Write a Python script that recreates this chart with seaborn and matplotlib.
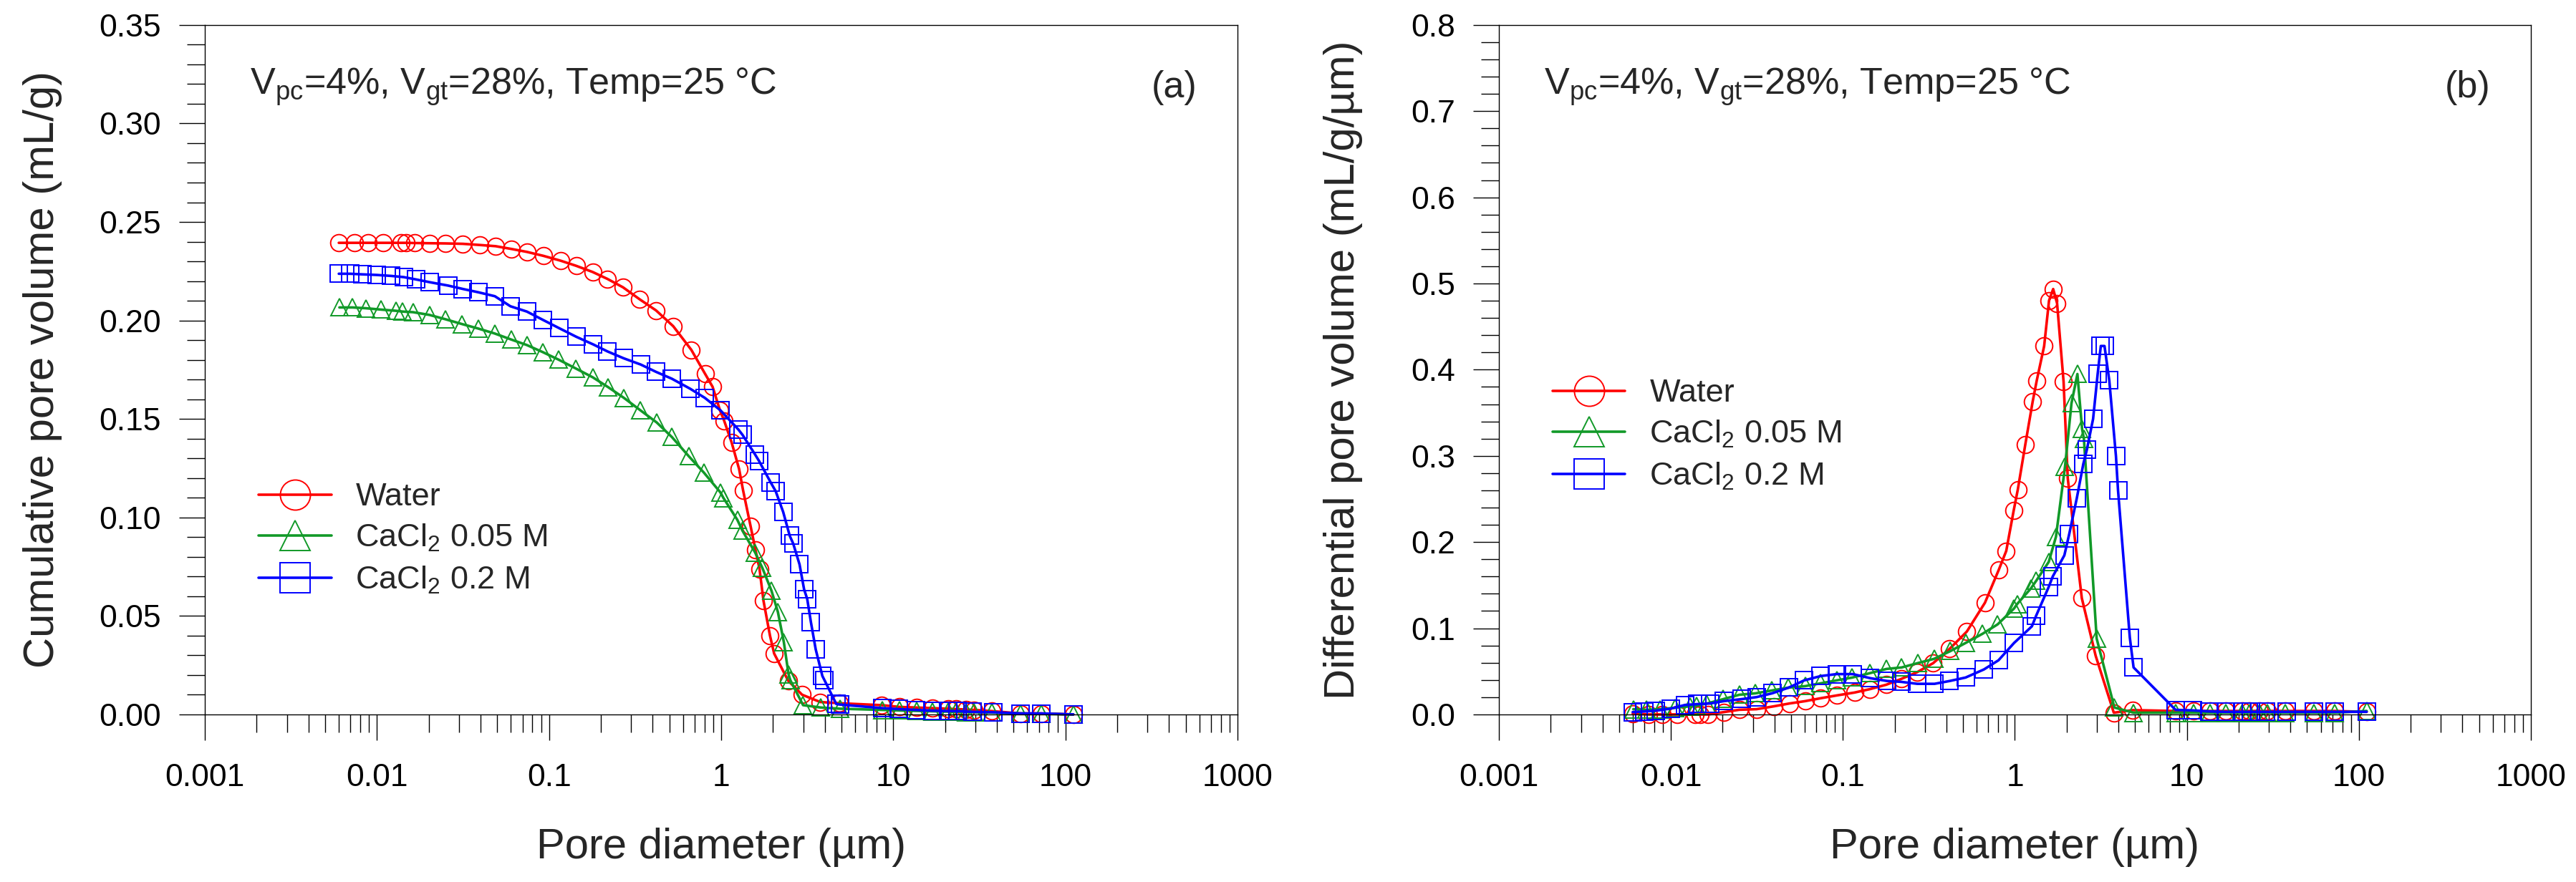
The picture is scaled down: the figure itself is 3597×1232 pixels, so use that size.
import pandas as pd
import seaborn as sns
import matplotlib
matplotlib.use('Agg')
import matplotlib.pyplot as plt
from matplotlib.ticker import MultipleLocator, LogLocator, FuncFormatter, NullFormatter

# pore diameters (um) and volumes
water_d = [0.006, 0.0074, 0.0089, 0.0109, 0.0138, 0.0148, 0.0165, 0.0203, 0.025, 0.0315,
           0.0397, 0.0489, 0.0603, 0.0743, 0.0926, 0.117, 0.144, 0.179, 0.218, 0.269,
           0.335, 0.418, 0.526, 0.670, 0.807, 0.891, 0.984, 1.04, 1.15, 1.27,
           1.34, 1.48, 1.58, 1.67, 1.76, 1.92, 2.03, 2.45, 2.95, 3.76,
           4.84, 8.58, 10.9, 13.6, 16.8, 20.9, 23.1, 26.4, 29.3, 37.3,
           54.7, 72.2, 111]
water_cum = [0.2394, 0.2394, 0.2394, 0.2394, 0.2394, 0.2394, 0.2393, 0.2392, 0.2391, 0.2389,
             0.2383, 0.2377, 0.2363, 0.2348, 0.2328, 0.2303, 0.2277, 0.2246, 0.2211, 0.2168,
             0.2108, 0.2051, 0.1971, 0.1851, 0.1728, 0.1663, 0.1543, 0.1491, 0.1380, 0.1246,
             0.1137, 0.0957, 0.0837, 0.0737, 0.0577, 0.0400, 0.0309, 0.0171, 0.0100, 0.0063,
             0.0057, 0.0047, 0.0038, 0.0035, 0.0032, 0.0029, 0.0027, 0.0025, 0.0023, 0.0017,
             0.0005, 0.0005, 0.0]
water_diff = [0.001, 0.0, 0.0, 0.0, 0.0, 0.0, 0.0, 0.0027, 0.0054, 0.0061,
              0.0094, 0.0127, 0.0154, 0.0188, 0.0221, 0.0254, 0.0294, 0.0345, 0.0411, 0.0488,
              0.0595, 0.0762, 0.0962, 0.1296, 0.168, 0.1897, 0.2364, 0.2608, 0.3132, 0.3633,
              0.3873, 0.4274, 0.4802, 0.4936, 0.477, 0.386, 0.274, 0.135, 0.068, 0.002,
              0.005, 0.004, 0.004, 0.004, 0.004, 0.004, 0.004, 0.004, 0.004, 0.004,
              0.004, 0.004, 0.003]

ca05_d = [0.00605, 0.00722, 0.00862, 0.0106, 0.0129, 0.0141, 0.0162, 0.0202, 0.025, 0.0311,
          0.0387, 0.0482, 0.0603, 0.0743, 0.092, 0.1135, 0.143, 0.1796, 0.2197, 0.272,
          0.339, 0.422, 0.517, 0.649, 0.794, 0.989, 1.03, 1.24, 1.33, 1.574,
          1.733, 1.957, 2.134, 2.31, 2.46, 2.52, 2.99, 3.79, 4.9, 8.6,
          10.9, 13.6, 16.8, 20.9, 23.1, 26.4, 29.3, 37.3, 54.7, 72.2,
          111]
ca05_cum = [0.2066, 0.2066, 0.2062, 0.2055, 0.2049, 0.2045, 0.2042, 0.2028, 0.2006, 0.1982,
            0.1959, 0.1934, 0.1903, 0.1875, 0.1839, 0.1801, 0.1756, 0.1711, 0.1662, 0.1607,
            0.1544, 0.1482, 0.1408, 0.1310, 0.1227, 0.1127, 0.1099, 0.0988, 0.0932, 0.0822,
            0.0744, 0.0629, 0.0520, 0.0368, 0.0205, 0.0174, 0.0047, 0.0035, 0.0029, 0.0023,
            0.0020, 0.0018, 0.0016, 0.0014, 0.0013, 0.0012, 0.0011, 0.0009, 0.0005, 0.0003,
            0.0]
ca05_diff = [0.0061, 0.0054, 0.0061, 0.0077, 0.0094, 0.0100, 0.0127, 0.0178, 0.0228, 0.0245,
             0.0278, 0.0311, 0.0328, 0.0361, 0.0395, 0.0428, 0.0478, 0.0528, 0.0545, 0.0595,
             0.0645, 0.0735, 0.0829, 0.0936, 0.1045, 0.1229, 0.128, 0.1463, 0.155, 0.177,
             0.206, 0.2875, 0.361, 0.395, 0.331, 0.320, 0.088, 0.008, 0.002, 0.002,
             0.002, 0.002, 0.002, 0.002, 0.002, 0.002, 0.002, 0.002, 0.002, 0.002,
             0.004]

ca2_d = [0.006, 0.0070, 0.0082, 0.00995, 0.0121, 0.0143, 0.0169, 0.0203, 0.0259, 0.0315,
         0.0388, 0.0484, 0.0596, 0.0743, 0.092, 0.1143, 0.1439, 0.1807, 0.218, 0.271,
         0.341, 0.418, 0.517, 0.661, 0.803, 0.989, 1.256, 1.33, 1.574, 1.66,
         1.94, 2.07, 2.29, 2.50, 2.62, 2.85, 3.03, 3.16, 3.32, 3.54,
         3.87, 3.98, 4.66, 4.9, 8.6, 10.8, 13.5, 16.8, 20.9, 23.5,
         28.9, 37.9, 54.7, 72.2, 111]
ca2_cum = [0.2237, 0.2237, 0.2234, 0.2231, 0.2226, 0.2220, 0.2208, 0.2194, 0.2177, 0.2160,
           0.2143, 0.2123, 0.2072, 0.2045, 0.2003, 0.1961, 0.1917, 0.1878, 0.1843, 0.1808,
           0.1776, 0.1739, 0.1704, 0.1653, 0.1607, 0.1544, 0.1447, 0.1419, 0.1319, 0.1286,
           0.1177, 0.1134, 0.1028, 0.0907, 0.0867, 0.0762, 0.0635, 0.0586, 0.0468, 0.0330,
           0.0195, 0.0174, 0.0053, 0.0050, 0.0032, 0.0027, 0.0023, 0.0019, 0.0017, 0.0017,
           0.0013, 0.0011, 0.0005, 0.0005, 0.0]
ca2_diff = [0.0027, 0.0034, 0.0044, 0.0067, 0.011, 0.012, 0.0127, 0.0154, 0.0178, 0.0201,
            0.0245, 0.0311, 0.0395, 0.0445, 0.0468, 0.0468, 0.0421, 0.0388, 0.0378, 0.0355,
            0.0355, 0.0388, 0.0428, 0.0522, 0.0628, 0.0829, 0.1022, 0.1146, 0.148, 0.160,
            0.1846, 0.2092, 0.2506, 0.2906, 0.3069, 0.3429, 0.3951, 0.4275, 0.4275, 0.3875,
            0.2998, 0.2598, 0.0892, 0.0545, 0.0053, 0.0047, 0.0035, 0.003, 0.003, 0.003,
            0.003, 0.003, 0.003, 0.003, 0.003]

samples = ['Water', 'CaCl$_2$ 0.05 M', 'CaCl$_2$ 0.2 M']
colors = {'Water': '#ff0000', 'CaCl$_2$ 0.05 M': '#119928', 'CaCl$_2$ 0.2 M': '#0000ff'}
markers = {'Water': 'o', 'CaCl$_2$ 0.05 M': '^', 'CaCl$_2$ 0.2 M': 's'}

df = pd.concat([
    pd.DataFrame({'diameter': water_d, 'cumulative': water_cum, 'differential': water_diff, 'sample': samples[0]}),
    pd.DataFrame({'diameter': ca05_d, 'cumulative': ca05_cum, 'differential': ca05_diff, 'sample': samples[1]}),
    pd.DataFrame({'diameter': ca2_d, 'cumulative': ca2_cum, 'differential': ca2_diff, 'sample': samples[2]}),
])

sns.set_style('ticks')
plt.rcParams['font.family'] = ['Liberation Sans', 'DejaVu Sans']
plt.rcParams['mathtext.fontset'] = 'custom'
plt.rcParams['mathtext.rm'] = 'Liberation Sans'
plt.rcParams['mathtext.it'] = 'Liberation Sans:italic'
plt.rcParams['mathtext.bf'] = 'Liberation Sans:bold'
plt.rcParams['mathtext.default'] = 'regular'

fig = plt.figure(figsize=(35.98, 12.32), dpi=100)
ax_a = fig.add_axes([0.0795, 0.19, 0.4008, 0.7817])
ax_b = fig.add_axes([0.5817, 0.19, 0.4005, 0.7817])

panels = [
    (ax_a, 'cumulative', 'Cumulative pore volume (mL/g)', 0.35, 0.05, 0.01, '{:.2f}', '(a)', -0.138, 0.336),
    (ax_b, 'differential', 'Differential pore volume (mL/g/\u00b5m)', 0.8, 0.1, 0.02, '{:.1f}', '(b)', -0.132, 0.4865),
]

for ax, col, ylab, ymax, ymaj, ymin, fmt, tag, ylx, legy in panels:
    for name in samples:
        sub = df[df['sample'] == name]
        sns.lineplot(data=sub, x='diameter', y=col, ax=ax, color=colors[name],
                     marker=markers[name], markersize=17, markerfacecolor='none',
                     markeredgecolor=colors[name], markeredgewidth=1.4, linewidth=2.6,
                     estimator=None, sort=False, label=name, clip_on=False)
    ax.set_xscale('log')
    ax.set_xlim(0.001, 1000)
    ax.set_ylim(0, ymax)
    ax.xaxis.set_major_locator(LogLocator(base=10, numticks=12))
    ax.xaxis.set_minor_locator(LogLocator(base=10, subs=range(2, 10), numticks=12))
    ax.xaxis.set_major_formatter(FuncFormatter(lambda v, p: f'{v:g}'))
    ax.xaxis.set_minor_formatter(NullFormatter())
    ax.yaxis.set_major_locator(MultipleLocator(ymaj))
    ax.yaxis.set_minor_locator(MultipleLocator(ymin))
    ax.yaxis.set_major_formatter(FuncFormatter(lambda v, p, f=fmt: f.format(v)))
    ax.tick_params(which='both', direction='out', width=1, colors='black', labelsize=32,
                   top=False, right=False)
    ax.tick_params(which='major', length=26)
    ax.tick_params(which='minor', length=18)
    ax.tick_params(axis='y', which='major', pad=18)
    ax.tick_params(axis='x', which='major', pad=23)
    for sp in ax.spines.values():
        sp.set_visible(True)
        sp.set_linewidth(1.0)
        sp.set_color('black')
    ax.set_xlabel('Pore diameter (\u00b5m)', fontsize=43)
    ax.set_ylabel(ylab, fontsize=43)
    ax.xaxis.set_label_coords(0.5, -0.164)
    ax.yaxis.set_label_coords(ylx, 0.5)
    ax.text(0.044, 0.8995, 'V$_{pc}$=4%, V$_{gt}$=28%, Temp=25 \u00b0C', transform=ax.transAxes,
            fontsize=37.5, va='baseline', ha='left')
    ax.text(0.961, 0.895, tag, transform=ax.transAxes, fontsize=37.5, va='baseline', ha='right')
    ax.legend(loc='upper left', bbox_to_anchor=(0.052, legy), frameon=False, fontsize=32.5,
              markerscale=1.78, handlelength=2.25, handletextpad=0.75, labelspacing=0.33,
              borderpad=0, borderaxespad=0)

fig.savefig('out.png', dpi=100)
